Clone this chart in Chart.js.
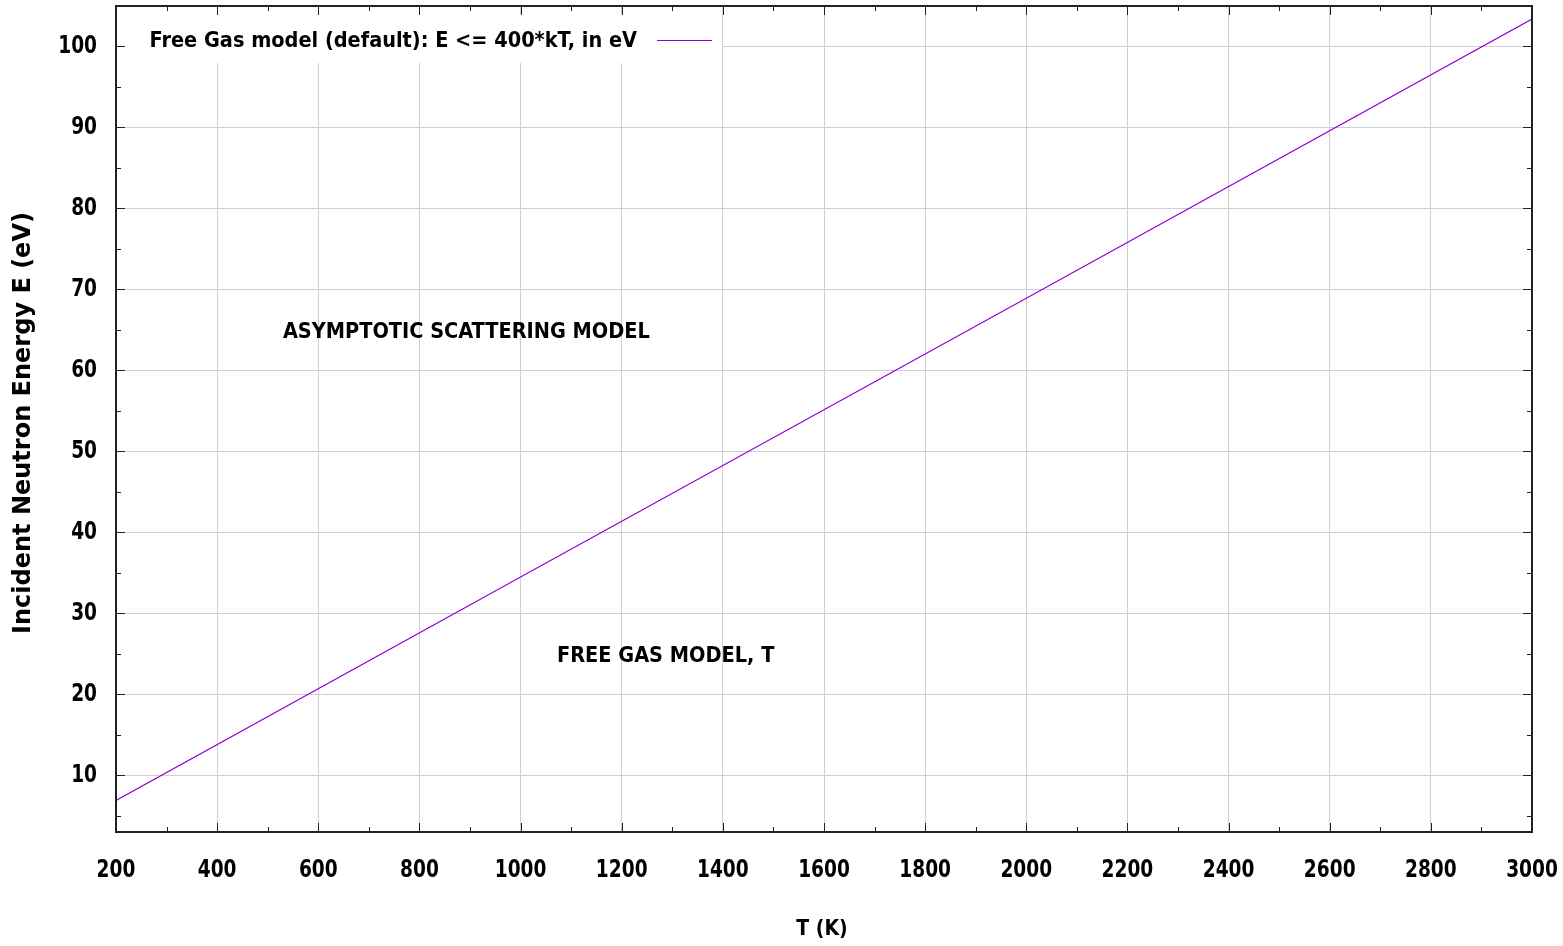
<!DOCTYPE html>
<html>
<head>
<meta charset="utf-8">
<script src="https://cdn.jsdelivr.net/npm/chart.js@4/dist/chart.umd.min.js"></script>
<style>
  html, body { margin: 0; padding: 0; background: #fff; }
  #wrap { width: 1563px; height: 946px; }
</style>
</head>
<body>
<div id="wrap"><canvas id="energyChart" width="1563" height="946"></canvas></div>
<script>
// temperature (K) vs. upper energy limit of the free gas model (eV)
const tempK = [200, 1000, 2000, 3000];
const energyEv = [6.9, 34.5, 68.9, 103.4];

const xTicks = [200, 400, 600, 800, 1000, 1200, 1400, 1600, 1800, 2000, 2200, 2400, 2600, 2800, 3000];
const yTicks = [10, 20, 30, 40, 50, 60, 70, 80, 90, 100];

const seriesLabel = 'Free Gas model (default): E <= 400*kT, in eV';
const xTitle = 'T (K)';
const yTitle = 'Incident Neutron Energy E (eV)';
const regionLabels = [
    { text: 'ASYMPTOTIC SCATTERING MODEL', x: 530, y: 65 },
    { text: 'FREE GAS MODEL, T', x: 1072, y: 25 }
];

const lineColor = '#9400d3';
const condensed = '"DejaVu Sans Condensed", "DejaVu Sans", sans-serif';
const wide = '"DejaVu Sans", sans-serif';

// squeezed bold text for the tic labels
function tickText(ctx, text, px, py, align) {
    const sx = 0.86;
    ctx.save();
    ctx.font = 'bold 24px ' + condensed;
    ctx.textAlign = align;
    ctx.textBaseline = 'middle';
    ctx.translate(px, py);
    ctx.scale(sx, 1);
    ctx.fillText(text, 0, 0);
    ctx.restore();
}

// frame, inward ticks (major + minor, mirrored), labels, key
const framePlugin = {
    id: 'framePlugin',
    beforeDatasetsDraw(chart) {
        const ctx = chart.ctx;
        ctx.save();
        ctx.fillStyle = '#fff';
        ctx.fillRect(124, 14, 598, 49);
        ctx.restore();
    },
    afterDatasetsDraw(chart) {
        const { ctx, chartArea: a, scales: { x, y } } = chart;
        ctx.save();
        ctx.fillStyle = '#000';

        // region labels (caps sit a little high on 'middle')
        ctx.font = 'bold 21.5px ' + condensed;
        ctx.textAlign = 'left';
        ctx.textBaseline = 'middle';
        regionLabels.forEach(l => {
            ctx.fillText(l.text, x.getPixelForValue(l.x), y.getPixelForValue(l.y) + 3);
        });

        // key
        ctx.textAlign = 'right';
        ctx.fillText(seriesLabel, 637, 41);
        ctx.strokeStyle = lineColor;
        ctx.lineWidth = 1;
        ctx.beginPath();
        ctx.moveTo(657, 40.5);
        ctx.lineTo(712, 40.5);
        ctx.stroke();

        // tic labels
        xTicks.forEach(v => tickText(ctx, String(v), x.getPixelForValue(v), 871, 'center'));
        yTicks.forEach(v => tickText(ctx, String(v), 97, y.getPixelForValue(v), 'right'));

        // axis titles
        ctx.font = 'bold 21px ' + condensed;
        ctx.textAlign = 'center';
        ctx.textBaseline = 'middle';
        ctx.fillText(xTitle, (a.left + a.right) / 2 - 2, 930);
        ctx.save();
        ctx.translate(24, (a.top + a.bottom) / 2 + 4);
        ctx.rotate(-Math.PI / 2);
        ctx.font = 'bold 24px ' + wide;
        ctx.fillText(yTitle, 0, 0);
        ctx.restore();

        // ticks
        ctx.strokeStyle = '#222';
        ctx.lineWidth = 1;
        const majorLen = 9, minorLen = 5;
        const xMinor = [];
        for (let i = 0; i < xTicks.length - 1; i++) xMinor.push((xTicks[i] + xTicks[i + 1]) / 2);
        const yMinor = [5];
        for (let i = 0; i < yTicks.length - 1; i++) yMinor.push((yTicks[i] + yTicks[i + 1]) / 2);
        const yAll = yTicks.map(v => [v, majorLen]).concat(yMinor.map(v => [v, minorLen]));
        const xAll = xTicks.map(v => [v, majorLen]).concat(xMinor.map(v => [v, minorLen]));
        ctx.beginPath();
        xAll.forEach(([v, len]) => {
            const px = Math.round(x.getPixelForValue(v)) + 0.5;
            ctx.moveTo(px, a.bottom); ctx.lineTo(px, a.bottom - len);
            ctx.moveTo(px, a.top); ctx.lineTo(px, a.top + len);
        });
        yAll.forEach(([v, len]) => {
            const py = Math.round(y.getPixelForValue(v)) + 0.5;
            ctx.moveTo(a.left, py); ctx.lineTo(a.left + len, py);
            ctx.moveTo(a.right, py); ctx.lineTo(a.right - len, py);
        });
        ctx.stroke();

        // border
        ctx.strokeStyle = '#222';
        ctx.lineWidth = 2;
        ctx.strokeRect(a.left, a.top, a.right - a.left, a.bottom - a.top);
        ctx.restore();
    }
};

new Chart(document.getElementById('energyChart'), {
    type: 'scatter',
    data: {
        datasets: [{
            label: seriesLabel,
            data: tempK.map((t, i) => ({ x: t, y: energyEv[i] })),
            showLine: true,
            borderColor: lineColor,
            borderWidth: 1.2,
            pointRadius: 0,
            fill: false
        }]
    },
    options: {
        responsive: false,
        animation: false,
        layout: { padding: { top: 6, right: 31, left: 0, bottom: 0 } },
        plugins: {
            legend: { display: false },
            tooltip: { enabled: false }
        },
        scales: {
            x: {
                type: 'linear',
                min: 200,
                max: 3000,
                afterBuildTicks: s => { s.ticks = xTicks.map(v => ({ value: v })); },
                afterFit: s => { s.height = 114; },
                grid: { color: '#d0d0d0', lineWidth: 1, drawTicks: false },
                border: { display: false },
                ticks: { display: false }
            },
            y: {
                type: 'linear',
                min: 3,
                max: 105,
                afterBuildTicks: s => { s.ticks = yTicks.map(v => ({ value: v })); },
                afterFit: s => { s.width = 116; },
                grid: { color: '#d0d0d0', lineWidth: 1, drawTicks: false },
                border: { display: false },
                ticks: { display: false }
            }
        }
    },
    plugins: [framePlugin]
});
</script>
</body>
</html>
